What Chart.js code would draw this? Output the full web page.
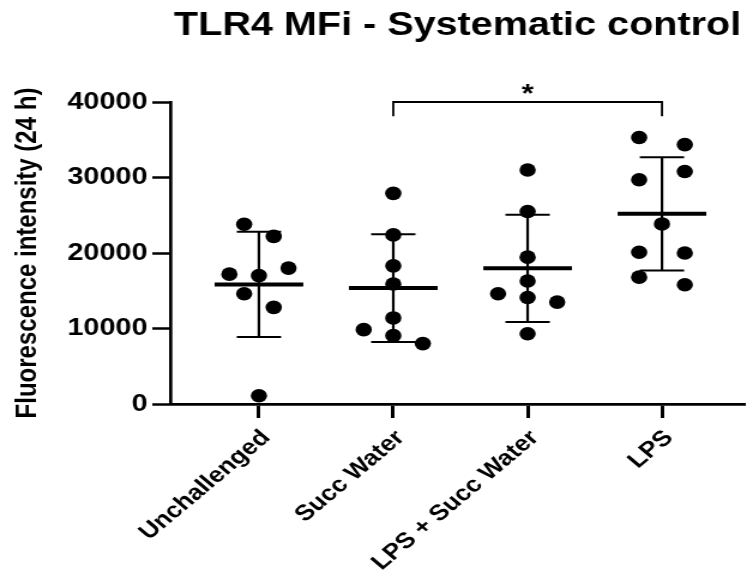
<!DOCTYPE html>
<html>
<head>
<meta charset="utf-8">
<script src="https://cdn.jsdelivr.net/npm/chart.js@4/dist/chart.umd.min.js"></script>
<style>
	html, body { margin: 0; padding: 0; background: #fff; }
</style>
</head>
<body>
<!-- drawn narrow and shown wide, like the exported figure -->
<canvas id="plot" width="628" height="570" style="display:block;width:753px;height:570px"></canvas>
<script>
const groups = ['Unchallenged', 'Succ Water', 'LPS + Succ Water', 'LPS']

const unchallenged = [23800, 22200, 17200, 17000, 18000, 14600, 12800, 1100]
const succWater = [27900, 22400, 18300, 15900, 11400, 9850, 9050, 8000]
const lpsSuccWater = [31000, 25500, 19450, 16300, 14600, 14100, 13500, 9300]
const lps = [35300, 34350, 30800, 29700, 23850, 20100, 20000, 16800, 15800]

// sideways spread of the dots inside each column (category units)
const unchallengedSpread = [-0.11, 0.11, -0.22, 0, 0.22, -0.11, 0.11, 0]
const succWaterSpread = [0, 0, 0, 0, 0, -0.22, 0, 0.22]
const lpsSuccWaterSpread = [0, 0, 0, 0, -0.22, 0, 0.22, 0]
const lpsSpread = [-0.17, 0.17, 0.17, -0.17, 0, -0.17, 0.17, -0.17, 0.17]

const yTicks = [0, 10000, 20000, 30000, 40000]

// Succ Water vs LPS
const comparison = { from: 1, to: 3, label: '*' }

const series = [unchallenged, succWater, lpsSuccWater, lps]
const spreads = [unchallengedSpread, succWaterSpread, lpsSuccWaterSpread, lpsSpread]

const FONT = "'Liberation Sans', Arial, Helvetica, sans-serif"
Chart.defaults.font.family = FONT
Chart.defaults.color = '#000'

const mean = (arr) => arr.reduce((a, b) => a + b, 0) / arr.length
const sd = (arr) => {
	const m = mean(arr)
	return Math.sqrt(arr.reduce((s, v) => s + (v - m) ** 2, 0) / (arr.length - 1))
}

function segment(ctx, x1, y1, x2, y2) {
	ctx.beginPath()
	ctx.moveTo(x1, y1)
	ctx.lineTo(x2, y2)
	ctx.stroke()
}

// mean line + SD whiskers for every group
const meanSdBars = {
	id: 'meanSdBars',
	afterDatasetsDraw(chart) {
		const { ctx } = chart
		const { x, y } = chart.scales
		ctx.save()
		ctx.strokeStyle = '#000'
		ctx.lineCap = 'butt'
		series.forEach((values, i) => {
			const m = mean(values)
			const s = sd(values)
			const cx = x.getPixelForValue(i)
			const top = y.getPixelForValue(m + s)
			const bottom = y.getPixelForValue(m - s)

			ctx.lineWidth = 2.2
			segment(ctx, cx, top, cx, bottom)
			ctx.lineWidth = 2
			segment(ctx, x.getPixelForValue(i - 0.165), top, x.getPixelForValue(i + 0.165), top)
			segment(ctx, x.getPixelForValue(i - 0.165), bottom, x.getPixelForValue(i + 0.165), bottom)

			ctx.lineWidth = 4
			const my = y.getPixelForValue(m)
			segment(ctx, x.getPixelForValue(i - 0.33), my, x.getPixelForValue(i + 0.33), my)
		})
		ctx.restore()
	},
}

// significance bracket above the columns
const bracketPlugin = {
	id: 'bracket',
	afterDraw(chart) {
		const { ctx } = chart
		const { x, y } = chart.scales
		const x1 = x.getPixelForValue(comparison.from)
		const x2 = x.getPixelForValue(comparison.to)
		const top = y.getPixelForValue(40000)
		const leg = y.getPixelForValue(38100)
		ctx.save()
		ctx.strokeStyle = '#000'
		ctx.lineWidth = 1.8
		ctx.beginPath()
		ctx.moveTo(x1, leg)
		ctx.lineTo(x1, top)
		ctx.lineTo(x2, top)
		ctx.lineTo(x2, leg)
		ctx.stroke()
		ctx.fillStyle = '#000'
		ctx.font = `bold 26px ${FONT}`
		ctx.textAlign = 'center'
		ctx.textBaseline = 'alphabetic'
		ctx.fillText(comparison.label, (x1 + x2) / 2, top)
		ctx.restore()
	},
}

new Chart(document.getElementById('plot'), {
	type: 'scatter',
	data: {
		datasets: series.map((values, i) => ({
			label: groups[i],
			data: values.map((v, k) => ({ x: i + spreads[i][k], y: v })),
			pointRadius: 6.8,
			pointHoverRadius: 6.8,
			backgroundColor: '#000',
			borderWidth: 0,
		})),
	},
	options: {
		responsive: false,
		animation: false,
		events: [],
		layout: { padding: 0 },
		plugins: {
			legend: { display: false },
			tooltip: { enabled: false },
			title: {
				display: true,
				text: 'TLR4 MFi - Systematic control',
				fullSize: false,
				color: '#000',
				font: { size: 33, weight: 'bold' },
				padding: { top: 6, bottom: 56.4 },
			},
		},
		scales: {
			x: {
				type: 'linear',
				min: -0.66,
				max: 3.617,
				afterBuildTicks: (scale) => {
					scale.ticks = groups.map((g, i) => ({ value: i }))
				},
				afterFit: (scale) => {
					scale.height = 166
					scale.paddingLeft = 0
					scale.paddingRight = 0
				},
				ticks: {
					callback: (value) => groups[value],
					autoSkip: false,
					minRotation: 45,
					maxRotation: 45,
					padding: 7,
					labelOffset: 6,
					color: '#000',
					font: { size: 22, weight: 'bold' },
				},
				grid: {
					drawOnChartArea: false,
					drawTicks: true,
					tickLength: 14,
					tickWidth: 3,
					tickColor: '#000',
				},
				border: { display: true, color: '#000', width: 2.7 },
			},
			y: {
				min: 0,
				max: 40000,
				afterBuildTicks: (scale) => {
					scale.ticks = yTicks.map((v) => ({ value: v }))
				},
				afterFit: (scale) => {
					scale.width = 142
					scale.paddingTop = 0
					scale.paddingBottom = 0
				},
				ticks: {
					callback: (value) => String(value),
					padding: 4,
					color: '#000',
					font: { size: 24, weight: 'bold' },
				},
				title: {
					display: true,
					text: 'Fluorescence intensity (24 h)',
					color: '#000',
					font: { size: 24, weight: 'bold' },
					padding: { top: 9, bottom: 0 },
				},
				grid: {
					drawOnChartArea: false,
					drawTicks: true,
					tickLength: 15,
					tickWidth: 2.5,
					tickColor: '#000',
				},
				border: { display: true, color: '#000', width: 2.7 },
			},
		},
	},
	plugins: [meanSdBars, bracketPlugin],
})
</script>
</body>
</html>
